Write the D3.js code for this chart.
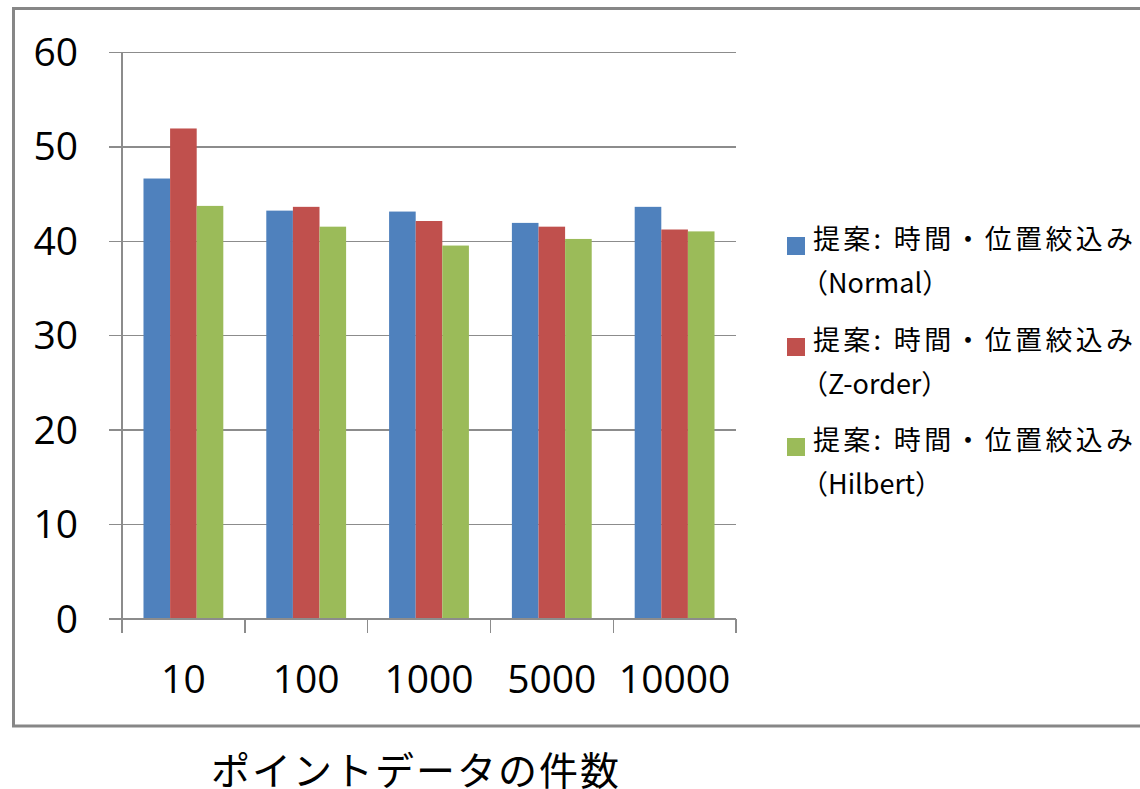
<!DOCTYPE html>
<html>
<head>
<meta charset="utf-8">
<script src="https://cdn.jsdelivr.net/npm/d3@7"></script>
<style>
  html, body { margin: 0; padding: 0; background: #fff; }
  svg { display: block; }
</style>
</head>
<body>
<svg id="chart" width="1140" height="789"></svg>
<script>
// Point-count categories and processing results for the three orderings
const categories = ["10", "100", "1000", "5000", "10000"];
const seriesNames = ["Normal", "Z-order", "Hilbert"];
const seriesLabelMain = "提案: 時間・位置絞込み";
const seriesLabelSub = ["（Normal）", "（Z-order）", "（Hilbert）"];
const normalValues = [46.6, 43.2, 43.1, 41.9, 43.6];
const zorderValues = [51.9, 43.6, 42.1, 41.5, 41.2];
const hilbertValues = [43.7, 41.5, 39.5, 40.2, 41.0];
const yTicks = [0, 10, 20, 30, 40, 50, 60];
const xTitle = "ポイントデータの件数";
const colors = ["#4F81BD", "#C0504D", "#9BBB59"];

const seriesValues = [normalValues, zorderValues, hilbertValues];

const svg = d3.select("#chart");
const latin = "'Open Sans', 'Liberation Sans', Arial, sans-serif";
const cjk = "'Noto Sans CJK JP', sans-serif";

// outer chart frame
svg.append("rect")
  .attr("x", 13.5).attr("y", 8.5)
  .attr("width", 1140).attr("height", 717.5)
  .attr("fill", "none")
  .attr("stroke", "#878787")
  .attr("stroke-width", 3);

const plotLeft = 122, plotRight = 736, plotTop = 52, plotBottom = 618.5;

const x0 = d3.scaleBand().domain(categories).range([plotLeft, plotRight]).padding(0);
const step = x0.step();
const x1 = d3.scaleBand().domain(seriesNames).range([step * 0.175, step * 0.825]).padding(0);
const y = d3.scaleLinear().domain([0, 60]).range([plotBottom, plotTop]);

// horizontal gridlines with short ticks on the left
const grid = svg.append("g")
  .attr("transform", `translate(${plotLeft},0)`)
  .call(d3.axisLeft(y).tickValues(yTicks).tickSize(-(plotRight - plotLeft)).tickFormat(""));
grid.select(".domain").remove();
grid.selectAll(".tick line")
  .attr("x1", -13)
  .attr("stroke", "#8c8c8c")
  .attr("stroke-width", 1.4)
  .attr("shape-rendering", "crispEdges");

// y tick labels
svg.append("g").selectAll("text")
  .data(yTicks)
  .join("text")
  .attr("x", 78)
  .attr("y", d => y(d))
  .attr("dy", "0.36em")
  .attr("text-anchor", "end")
  .attr("font-family", latin)
  .attr("font-size", 39)
  .attr("fill", "#000")
  .text(d => d);

// bars
const groups = svg.append("g").selectAll("g")
  .data(categories)
  .join("g")
  .attr("transform", d => `translate(${x0(d)},0)`);

groups.selectAll("rect")
  .data((c, ci) => seriesNames.map((s, si) => ({ s, si, v: seriesValues[si][ci] })))
  .join("rect")
  .attr("x", d => x1(d.s))
  .attr("y", d => y(d.v))
  .attr("width", x1.bandwidth())
  .attr("height", d => y(0) - y(d.v))
  .attr("fill", d => colors[d.si]);

// y axis line
svg.append("line")
  .attr("x1", plotLeft).attr("x2", plotLeft)
  .attr("y1", plotTop).attr("y2", plotBottom)
  .attr("stroke", "#8c8c8c").attr("stroke-width", 1.4)
  .attr("shape-rendering", "crispEdges");

// x axis with category boundary ticks
const xAxis = svg.append("g")
  .attr("transform", `translate(0,${plotBottom})`);
xAxis.append("line")
  .attr("x1", plotLeft).attr("x2", plotRight)
  .attr("stroke", "#8c8c8c").attr("stroke-width", 1.4)
  .attr("shape-rendering", "crispEdges");
const boundaries = categories.map(c => x0(c)).concat([x0(categories[categories.length - 1]) + step]);
xAxis.selectAll("line.tk")
  .data(boundaries)
  .join("line")
  .attr("class", "tk")
  .attr("x1", d => d).attr("x2", d => d)
  .attr("y1", 0).attr("y2", 14)
  .attr("stroke", "#8c8c8c").attr("stroke-width", 1.4)
  .attr("shape-rendering", "crispEdges");

// category labels
svg.append("g").selectAll("text")
  .data(categories)
  .join("text")
  .attr("x", d => x0(d) + step / 2)
  .attr("y", 679)
  .attr("dy", "0.36em")
  .attr("text-anchor", "middle")
  .attr("font-family", latin)
  .attr("font-size", 39)
  .attr("fill", "#000")
  .text(d => d);

// x axis title
svg.append("text")
  .attr("x", 416)
  .attr("y", 768)
  .attr("dominant-baseline", "central")
  .attr("text-anchor", "middle")
  .attr("font-family", cjk)
  .attr("font-size", 39)
  .attr("letter-spacing", 2)
  .attr("fill", "#000")
  .text(xTitle);

// legend
const legendY = [249, 350, 450];
const legend = svg.append("g").selectAll("g")
  .data(seriesNames)
  .join("g")
  .attr("transform", (d, i) => `translate(0,${legendY[i]})`);
legend.append("rect")
  .attr("x", 787).attr("y", -12)
  .attr("width", 18).attr("height", 18)
  .attr("fill", (d, i) => colors[i]);
legend.append("text")
  .attr("x", 813).attr("y", 0)
  .attr("font-family", cjk)
  .attr("font-size", 27)
  .attr("textLength", 320)
  .attr("lengthAdjust", "spacing")
  .attr("fill", "#000")
  .text(seriesLabelMain);
legend.append("text")
  .attr("x", 801).attr("y", 44)
  .attr("font-family", cjk)
  .attr("font-size", 27)
  .attr("fill", "#000")
  .text((d, i) => seriesLabelSub[i]);
</script>
</body>
</html>
